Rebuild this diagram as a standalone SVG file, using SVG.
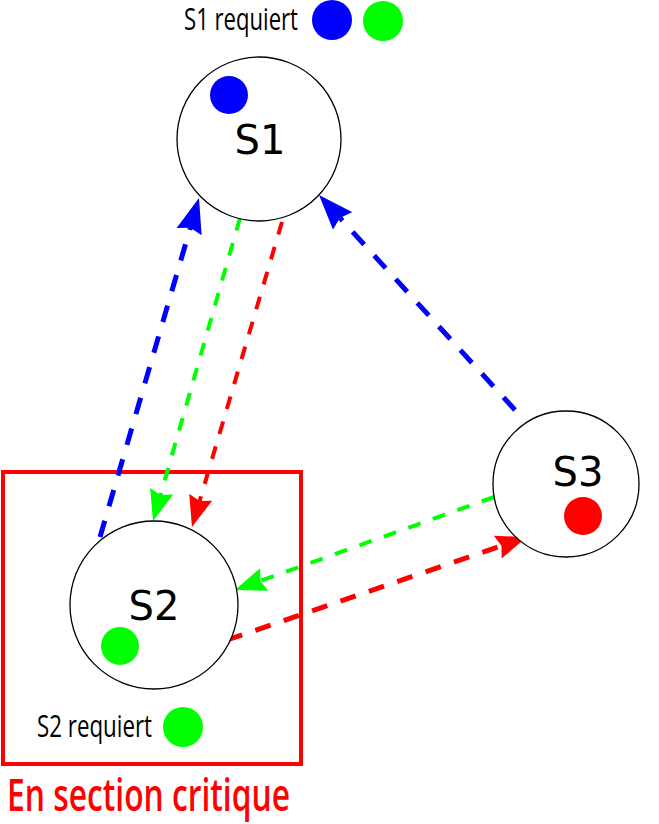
<svg xmlns="http://www.w3.org/2000/svg" width="659" height="824" viewBox="0 0 659 824">
  <style>
    .site { fill: #ffffff; stroke: #000000; stroke-width: 1.3; }
    .name { font-family: "DejaVu Sans", "Liberation Sans", sans-serif; font-size: 40px; text-anchor: middle; fill: #000000; }
    .note { font-family: "Open Sans", "DejaVu Sans", sans-serif; font-size: 31px; fill: #000000; }
    .title { font-family: "Open Sans", "DejaVu Sans", sans-serif; font-size: 45px; font-weight: 600; fill: #ff0000; }
    .link { fill: none; stroke-linecap: butt; }
    .blue { stroke: #0000ff; stroke-width: 5; stroke-dasharray: 17 15; }
    .green { stroke: #00ff00; stroke-width: 4; stroke-dasharray: 13 13; }
    .red { stroke: #ff0000; stroke-width: 4; stroke-dasharray: 13 13; }
    .red-wide { stroke: #ff0000; stroke-width: 5; stroke-dasharray: 16 14; }
  </style>
  <defs>
    <!-- arrowheads with a shallow notch; the notch sits on the line end -->
    <marker id="head-blue" markerUnits="userSpaceOnUse" orient="auto" viewBox="0 0 35 26" refX="4" refY="13" markerWidth="35" markerHeight="26">
      <path d="M35,13 L0,0 L4,13 L0,26 Z" fill="#0000ff"/>
    </marker>
    <marker id="head-green" markerUnits="userSpaceOnUse" orient="auto" viewBox="0 0 31 24" refX="4" refY="12" markerWidth="31" markerHeight="24">
      <path d="M31,12 L0,0 L4,12 L0,24 Z" fill="#00ff00"/>
    </marker>
    <marker id="head-red" markerUnits="userSpaceOnUse" orient="auto" viewBox="0 0 31 24" refX="4" refY="12" markerWidth="31" markerHeight="24">
      <path d="M31,12 L0,0 L4,12 L0,24 Z" fill="#ff0000"/>
    </marker>
  </defs>

  <!-- critical section frame around S2 -->
  <g id="critical-section">
    <rect x="3" y="472" width="298" height="292" fill="none" stroke="#ff0000" stroke-width="4"/>
    <text class="title" x="7" y="811" textLength="283" lengthAdjust="spacingAndGlyphs">En section critique</text>
  </g>

  <!-- message arrows between sites -->
  <g id="connectors">
    <line class="link blue" x1="100" y1="537" x2="190.3" y2="227.8" marker-end="url(#head-blue)"/>
    <line class="link green" x1="240" y1="218" x2="160.5" y2="495.1" marker-end="url(#head-green)"/>
    <line class="link red" x1="282" y1="222" x2="199.6" y2="501.1" marker-end="url(#head-red)"/>
    <line class="link blue" x1="515" y1="410" x2="339.9" y2="217.9" marker-end="url(#head-blue)"/>
    <line class="link green" x1="494" y1="497" x2="260.4" y2="580.9" marker-end="url(#head-green)"/>
    <line class="link red-wide" x1="227" y1="640" x2="501.5" y2="545.8" marker-end="url(#head-red)"/>
  </g>

  <g id="S1">
    <circle class="site" cx="259" cy="139" r="82"/>
    <circle cx="229" cy="95" r="19" fill="#0000ff"/>
    <text class="name" x="260" y="154">S1</text>
  </g>

  <g id="S2">
    <circle class="site" cx="154" cy="605" r="84"/>
    <circle cx="120" cy="646" r="19" fill="#00ff00"/>
    <text class="name" x="154" y="620">S2</text>
  </g>

  <g id="S3">
    <circle class="site" cx="566" cy="484" r="73"/>
    <circle cx="583" cy="516" r="19" fill="#ff0000"/>
    <text class="name" x="578" y="486">S3</text>
  </g>

  <g id="S1-request">
    <text class="note" x="184" y="30" textLength="114" lengthAdjust="spacingAndGlyphs">S1 requiert</text>
    <circle cx="332" cy="20" r="20" fill="#0000ff"/>
    <circle cx="383" cy="21" r="20" fill="#00ff00"/>
  </g>

  <g id="S2-request">
    <text class="note" x="37" y="737" font-size="30.5" textLength="115" lengthAdjust="spacingAndGlyphs">S2 requiert</text>
    <circle cx="183" cy="727" r="20" fill="#00ff00"/>
  </g>
</svg>
